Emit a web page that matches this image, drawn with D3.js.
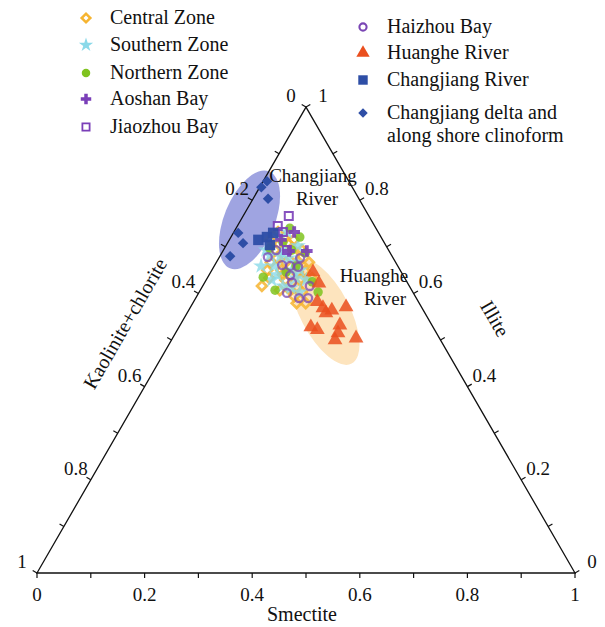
<!DOCTYPE html>
<html>
<head>
<meta charset="utf-8">
<script src="https://cdn.jsdelivr.net/npm/d3@7"></script>
<style>
  body { margin: 0; background: #fff; }
  svg { display: block; }
  text { font-family: "Liberation Serif", "Times New Roman", serif; fill: #111; }
</style>
</head>
<body>
<div id="chart"></div>
<script>
// each sample is [smectite, illite]; kaolinite+chlorite is what is left
const centralZone = [[0.110,0.616],[0.103,0.650],[0.101,0.667],[0.096,0.693],[0.097,0.706],[0.100,0.719],[0.115,0.706],[0.120,0.715],[0.108,0.676],[0.129,0.650],[0.147,0.629],[0.164,0.609],[0.181,0.594],[0.176,0.614],[0.175,0.631],[0.174,0.648],[0.153,0.667],[0.137,0.682],[0.129,0.667],[0.191,0.603],[0.210,0.579],[0.076,0.715],[0.146,0.693],[0.172,0.667],[0.195,0.633],[0.153,0.637],[0.148,0.607],[0.082,0.732],[0.125,0.697],[0.162,0.646],[0.137,0.640],[0.193,0.579],[0.115,0.633]];
const southernZone = [[0.087,0.659],[0.126,0.640],[0.092,0.682],[0.111,0.659],[0.112,0.680],[0.113,0.693],[0.129,0.676],[0.149,0.650],[0.165,0.633],[0.149,0.616],[0.166,0.612],[0.164,0.650],[0.186,0.629],[0.079,0.693],[0.088,0.723],[0.099,0.732],[0.148,0.667],[0.187,0.603],[0.122,0.629],[0.134,0.702]];
const northernZone = [[0.103,0.635],[0.139,0.607],[0.128,0.721],[0.155,0.687],[0.102,0.710],[0.100,0.740],[0.152,0.659],[0.199,0.625],[0.140,0.646],[0.084,0.697],[0.221,0.603],[0.127,0.693]];
const aoshanBay = [[0.112,0.732],[0.156,0.691],[0.123,0.691],[0.096,0.715]];
const jiaozhouBay = [[0.085,0.766],[0.075,0.745],[0.091,0.732],[0.118,0.693]];
const haizhouBay = [[0.090,0.678],[0.125,0.661],[0.141,0.659],[0.157,0.657],[0.151,0.639],[0.162,0.624],[0.199,0.616],[0.164,0.601],[0.192,0.590],[0.209,0.590],[0.098,0.693],[0.151,0.676]];
const huangheRiver = [[0.190,0.646],[0.213,0.622],[0.230,0.582],[0.247,0.569],[0.266,0.564],[0.289,0.571],[0.245,0.528],[0.260,0.522],[0.297,0.532],[0.302,0.515],[0.304,0.500],[0.341,0.504],[0.258,0.558]];
const changjiangRiver = [[0.054,0.715],[0.067,0.721],[0.081,0.704],[0.074,0.730]];
const changjiangDelta = [[0.007,0.841],[0.003,0.828],[0.028,0.803],[0.009,0.730],[0.029,0.708],[0.019,0.680]];

// source regions: centre [smectite, illite], half axes as fraction of a side, tilt in degrees
const regionCentres = [[0.016,0.758],[0.255,0.560]];
const regionAxes = [[0.097,0.047],[0.108,0.046]];
const regionTilt = [-68, 62.5];

const tickValues = [0,0.1,0.2,0.3,0.4,0.5,0.6,0.7,0.8,0.9,1];
const labelValues = [0,0.2,0.4,0.6,0.8,1];
const tickLabels = ["0","0.2","0.4","0.6","0.8","1"];

const seriesNames = ["Central Zone","Southern Zone","Northern Zone","Aoshan Bay","Jiaozhou Bay",
  "Haizhou Bay","Huanghe River","Changjiang River","Changjiang delta and|along shore clinoform"];

const width = 605, height = 627;
const svg = d3.select("#chart").append("svg")
    .attr("width", width)
    .attr("height", height);

const xScale = d3.scaleLinear().domain([0, 1]).range([37, 575]);
const side = 538;
const yScale = d3.scaleLinear().domain([0, 1]).range([573, 573 - side * Math.sqrt(3) / 2]);
const proj = (s, i) => [xScale(s + i / 2), yScale(i)];

// regions behind everything
const regionFill = ["#9fa4e1", "#fde4be"];
regionCentres.forEach((c, k) => {
  const p = proj(c[0], c[1]);
  svg.append("ellipse")
      .attr("transform", `translate(${p[0]},${p[1]}) rotate(${regionTilt[k]})`)
      .attr("rx", xScale(regionAxes[k][0]) - xScale(0))
      .attr("ry", xScale(regionAxes[k][1]) - xScale(0))
      .attr("fill", regionFill[k]);
});

// triangle frame
const cornerL = proj(0, 0), cornerR = proj(1, 0), cornerT = proj(0, 1);
svg.append("path")
    .attr("d", `M${cornerL}L${cornerR}L${cornerT}Z`)
    .attr("fill", "none")
    .attr("stroke", "#111")
    .attr("stroke-width", 1.3);

// three axes: point on edge for value v, outward tick direction, label offset
const axes = [
  { at: v => proj(v, 0), dir: [0, 1], lab: [0, 28] },                       // smectite
  { at: v => proj(0, 1 - v), dir: [-0.866, -0.5], lab: [-15, -5] },        // kaolinite+chlorite
  { at: v => proj(1 - v, v), dir: [0.866, -0.5], lab: [17, -5] }           // illite
];
axes.forEach(ax => {
  svg.append("g").selectAll("line")
    .data(tickValues)
    .enter()
    .append("line")
      .attr("x1", v => ax.at(v)[0])
      .attr("y1", v => ax.at(v)[1])
      .attr("x2", v => ax.at(v)[0] + ax.dir[0] * 5)
      .attr("y2", v => ax.at(v)[1] + ax.dir[1] * 5)
      .attr("stroke", "#111")
      .attr("stroke-width", 1.2);
  svg.append("g").selectAll("text")
    .data(labelValues)
    .enter()
    .append("text")
      .attr("x", v => ax.at(v)[0] + ax.lab[0])
      .attr("y", v => ax.at(v)[1] + ax.lab[1])
      .attr("text-anchor", "middle")
      .attr("font-size", 19)
      .text((v, i) => tickLabels[i]);
});

svg.append("text")
    .attr("x", 302).attr("y", 621)
    .attr("text-anchor", "middle")
    .attr("font-size", 20)
    .text("Smectite");
svg.append("text")
    .attr("transform", "translate(131,327) rotate(-60)")
    .attr("text-anchor", "middle")
    .attr("font-size", 20)
    .text("Kaolinite+chlorite");
svg.append("text")
    .attr("transform", "translate(489,322) rotate(60)")
    .attr("text-anchor", "middle")
    .attr("font-size", 20)
    .text("Illite");

// region notes
[["Changjiang", 313, 182], ["River", 317, 205], ["Huanghe", 374, 282], ["River", 385, 305]].forEach(t => {
  svg.append("text")
      .attr("x", t[1]).attr("y", t[2])
      .attr("text-anchor", "middle")
      .attr("font-size", 19)
      .text(t[0]);
});

// marker styles
const sym = (type, size) => d3.symbol().type(type).size(size)();
const styles = [
  { d: sym(d3.symbolSquare, 46), rot: 45, fill: "none", stroke: "#f6b430", sw: 2.8 },
  { d: sym(d3.symbolStar, 78), rot: 0, fill: "#8ad9e9", stroke: "none", sw: 0 },
  { d: sym(d3.symbolCircle, 70), rot: 0, fill: "#7fc31f", stroke: "none", sw: 0 },
  { d: sym(d3.symbolCross, 75), rot: 0, fill: "#7a3fb8", stroke: "none", sw: 0 },
  { d: sym(d3.symbolSquare, 64), rot: 0, fill: "none", stroke: "#7a3fb8", sw: 2 },
  { d: sym(d3.symbolCircle, 50), rot: 0, fill: "none", stroke: "#7a46b4", sw: 2.3 },
  { d: sym(d3.symbolTriangle, 95), rot: 0, fill: "#ea4f1e", stroke: "none", sw: 0 },
  { d: sym(d3.symbolSquare, 110), rot: 0, fill: "#2e4ea6", stroke: "none", sw: 0 },
  { d: sym(d3.symbolSquare, 55), rot: 45, fill: "#2e4ea6", stroke: "none", sw: 0 }
];
const allSeries = [centralZone, southernZone, northernZone, aoshanBay, jiaozhouBay,
  haizhouBay, huangheRiver, changjiangRiver, changjiangDelta];
const drawOrder = [0, 1, 2, 5, 4, 3, 6, 7, 8];
const plotOpacity = [0.85, 0.8, 0.85, 0.9, 0.9, 0.75, 0.85, 0.95, 1];

drawOrder.forEach(k => {
  const st = styles[k];
  svg.append("g").selectAll("path")
    .data(allSeries[k])
    .enter()
    .append("path")
      .attr("transform", e => `translate(${proj(e[0], e[1])}) rotate(${st.rot})`)
      .attr("d", st.d)
      .attr("fill", st.fill)
      .attr("stroke", st.stroke)
      .attr("stroke-width", st.sw)
      .attr("opacity", plotOpacity[k]);
});

// legend
const legendPos = [[86,18],[86,45],[86,73],[86,99],[86,127],[363,27],[363,53],[363,80],[363,113]];
const legend = svg.append("g");
seriesNames.forEach((name, k) => {
  const st = styles[k];
  const [lx, ly] = legendPos[k];
  legend.append("path")
      .attr("transform", `translate(${lx},${ly}) rotate(${st.rot}) scale(0.9)`)
      .attr("d", st.d)
      .attr("fill", st.fill)
      .attr("stroke", st.stroke)
      .attr("stroke-width", st.sw);
  name.split("|").forEach((line, j) => {
    legend.append("text")
        .attr("x", lx + 24)
        .attr("y", ly + 6 + j * 23)
        .attr("font-size", 20)
        .text(line);
  });
});
</script>
</body>
</html>
